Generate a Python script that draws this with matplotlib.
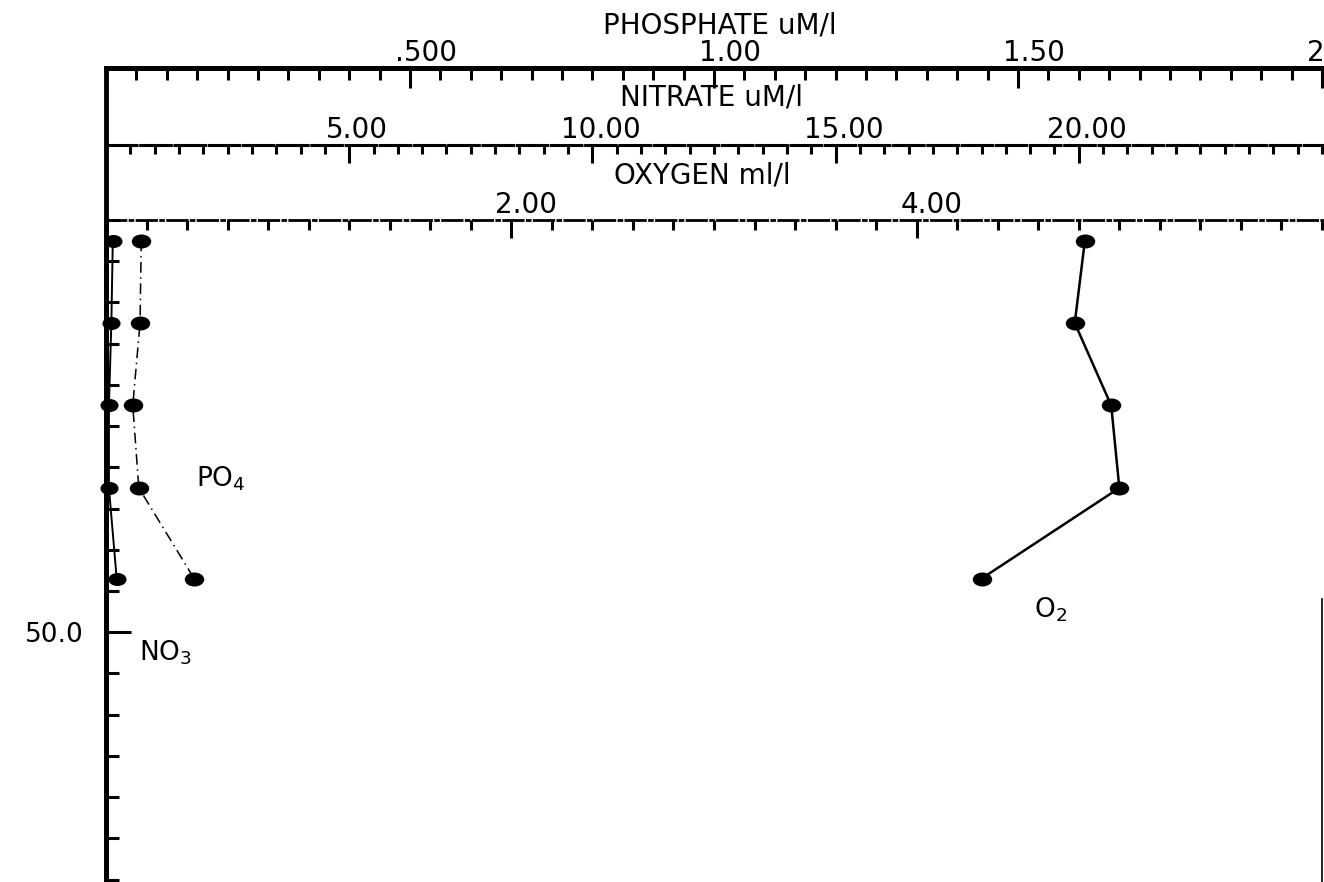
import numpy as np
import matplotlib
matplotlib.use('Agg')
import matplotlib.pyplot as plt
from matplotlib.path import Path
from matplotlib.transforms import ScaledTranslation
from matplotlib.ticker import FixedLocator, MultipleLocator, FixedFormatter

# ---------------- data ----------------
depth = [2.5, 12.5, 22.5, 32.5, 43.5]
oxygen = [4.83, 4.78, 4.96, 5.00, 4.32]
phosphate = [0.058, 0.056, 0.044, 0.054, 0.145]
nitrate = [0.14, 0.11, 0.06, 0.06, 0.22]

phos_ticks = [0.5, 1.0, 1.5, 2.0]
phos_labels = ['.500', '1.00', '1.50', '2.00']
nit_ticks = [5, 10, 15, 20]
nit_labels = ['5.00', '10.00', '15.00', '20.00']
oxy_ticks = [2, 4]
oxy_labels = ['2.00', '4.00']
depth_ticks = [50]
depth_labels = ['50.0']

plt.rcParams['font.family'] = ['DejaVu Sans']

W, H = 1324, 882
fig = plt.figure(figsize=(W / 100, H / 100), dpi=100)

L, R, T = 106, 1322, 220
ax = fig.add_axes([L / W, 0, (R - L) / W, (H - T) / H])
ax_n = ax.twiny()
ax_p = ax.twiny()

nit_pos = (H - 145) / (H - T)
phos_pos = (H - 68) / (H - T)

# ---------------- main axis (oxygen + depth) ----------------
ax.set_xlim(0, 6.0)
ax.set_ylim(80.3, 0)
ax.spines['bottom'].set_visible(False)
ax.spines['right'].set_bounds(46, 80.3)
ax.spines['right'].set_linewidth(1.2)
ax.spines['top'].set_linewidth(2.0)
ax.spines['top'].set_linestyle((0, (7, 1.5, 1, 1.5)))
ax.spines['left'].set_linewidth(3.5)
ax.xaxis.tick_top()
ax.xaxis.set_major_locator(FixedLocator(oxy_ticks))
ax.xaxis.set_major_formatter(FixedFormatter(oxy_labels))
ax.xaxis.set_minor_locator(MultipleLocator(0.2))
ax.tick_params(axis='x', which='both', direction='in', width=2.2, top=True,
               bottom=False, labeltop=True, labelbottom=False,
               labelsize=20, pad=0.5)
ax.tick_params(axis='x', which='major', length=13)
ax.tick_params(axis='x', which='minor', length=7)

ax.yaxis.set_major_locator(FixedLocator(depth_ticks))
ax.yaxis.set_major_formatter(FixedFormatter(depth_labels))
ax.yaxis.set_minor_locator(MultipleLocator(5))
ax.tick_params(axis='y', which='both', direction='in', width=2.2, left=True,
               right=False, labelsize=19, pad=16)
ax.tick_params(axis='y', which='major', length=18)
ax.tick_params(axis='y', which='minor', length=9.5)

# left frame line extends up to the phosphate axis
ax.plot([0, 0], [0, phos_pos], transform=ax.transAxes, color='k', lw=3.5,
        clip_on=False, solid_capstyle='butt')

# ---------------- twin axes (nitrate, phosphate) ----------------
cfg = [
    (ax_n, (0, 25), nit_ticks, nit_labels, 0.5, nit_pos, 2.2, (0, (10, 1.2)), 13, 6.5),
    (ax_p, (0, 2.0), phos_ticks, phos_labels, 0.05, phos_pos, 3.6, '-', 14.5, 8.6),
]
for a, lim, ticks, labels, minor, ypos, lw, ls, majlen, minlen in cfg:
    a.set_xlim(*lim)
    for s in ['bottom', 'left', 'right']:
        a.spines[s].set_visible(False)
    a.spines['top'].set_position(('axes', ypos))
    a.spines['top'].set_linewidth(lw)
    a.spines['top'].set_linestyle(ls)
    a.xaxis.set_major_locator(FixedLocator(ticks))
    a.xaxis.set_major_formatter(FixedFormatter(labels))
    a.xaxis.set_minor_locator(MultipleLocator(minor))
    a.tick_params(axis='x', which='both', direction='in', width=2.2, top=True,
                  bottom=False, labeltop=True, labelbottom=False,
                  labelsize=20, pad=0.5)
    a.tick_params(axis='x', which='major', length=majlen)
    a.tick_params(axis='x', which='minor', length=minlen)

# ---------------- data series ----------------
circ = Path.unit_circle()
ell = Path(circ.vertices * np.array([1.0, 0.7]), circ.codes)

ax.plot(oxygen, depth, color='k', lw=1.8, marker=ell, ms=13, clip_on=False)
ax_n.plot(nitrate, depth, color='k', lw=1.4, marker=ell, ms=12, clip_on=False)
ax_p.plot(phosphate, depth, color='k', lw=1.1, ls=(0, (7, 3, 1, 3)),
          marker=ell, ms=13, clip_on=False)

# ---------------- text ----------------
def fx(px):
    return px / W

def fy(py):
    return 1 - py / H

fig.text(fx(720), fy(25), 'PHOSPHATE uM/l', fontsize=20, ha='center', va='center')
fig.text(fx(711), fy(98), 'NITRATE uM/l', fontsize=20, ha='center', va='center')
fig.text(fx(702), fy(176), 'OXYGEN ml/l', fontsize=20, ha='center', va='center')

fig.text(fx(196), fy(479), 'PO$_4$', fontsize=19, ha='left', va='center')
fig.text(fx(139), fy(653), 'NO$_3$', fontsize=19, ha='left', va='center')
fig.text(fx(1034), fy(610), 'O$_2$', fontsize=19, ha='left', va='center')

# shift top tick labels slightly right, as in the plotter output
fig.canvas.draw()
for a, dx in [(ax_p, 16), (ax_n, 8), (ax, 15)]:
    for t in a.xaxis.get_major_ticks():
        t.label2.set_transform(t.label2.get_transform() +
                               ScaledTranslation(dx / 100, 0, fig.dpi_scale_trans))

fig.savefig('out.png', dpi=100)
